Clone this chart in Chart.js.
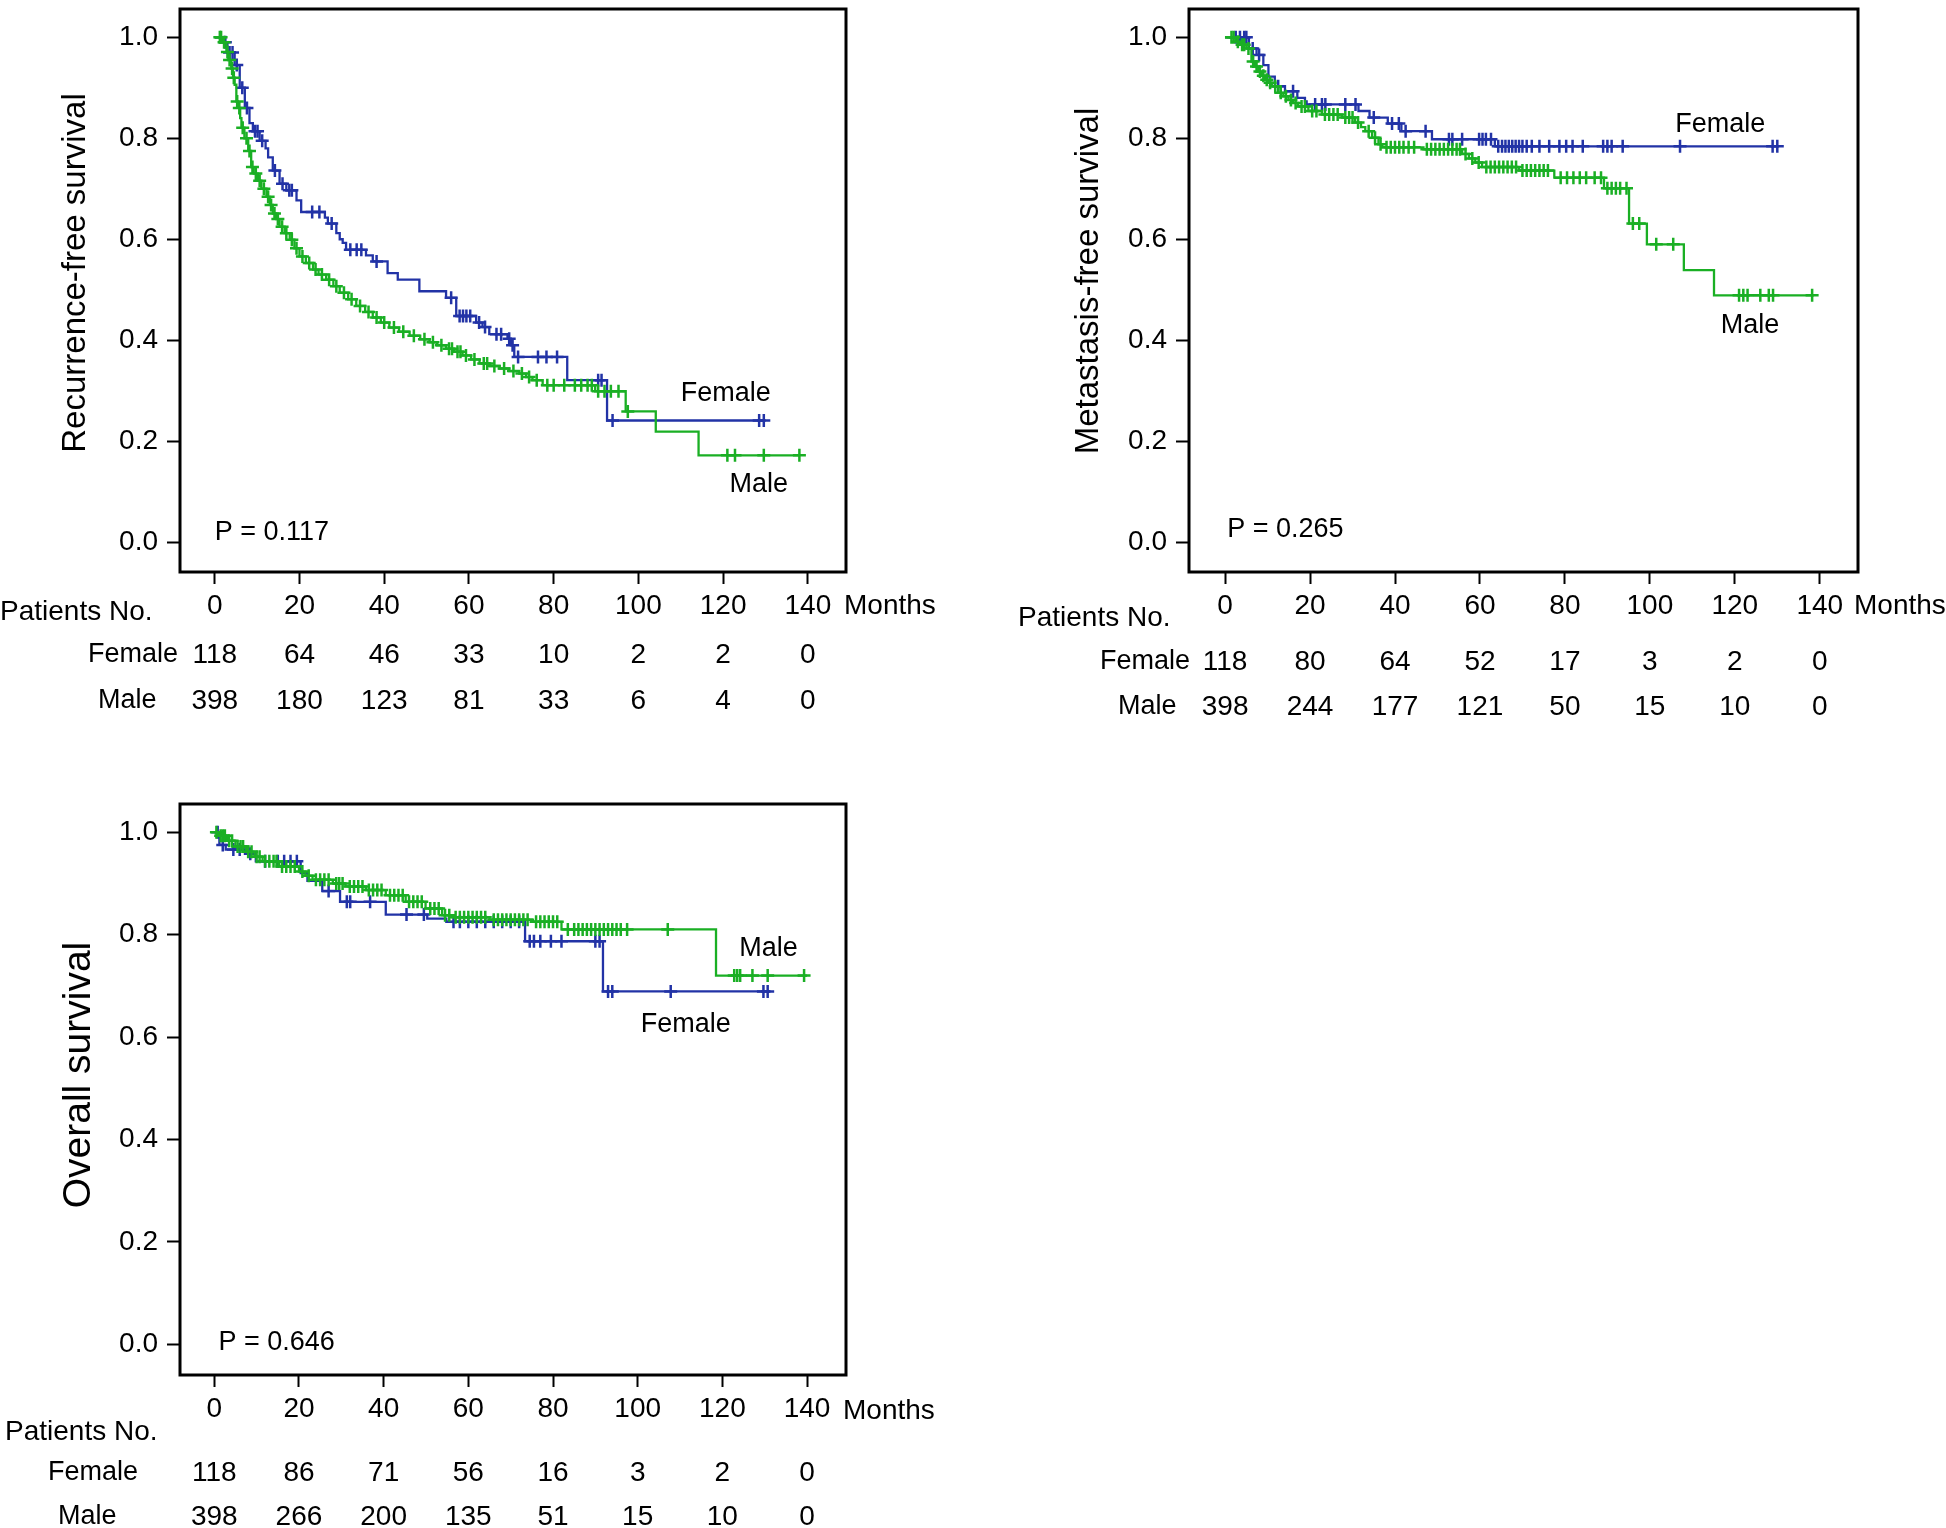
<!DOCTYPE html>
<html>
<head>
<meta charset="utf-8">
<script src="https://cdn.jsdelivr.net/npm/chart.js@4.4.1/dist/chart.umd.min.js"></script>
<style>
  body { margin: 0; width: 1946px; height: 1528px; background: #fff; overflow: hidden; position: relative; }
  canvas { position: absolute; }
</style>
</head>
<body>
<canvas id="rfsChart" width="960" height="760" style="left:0;top:0"></canvas>
<canvas id="mfsChart" width="961" height="760" style="left:985px;top:0"></canvas>
<canvas id="osChart" width="960" height="748" style="left:0;top:780px"></canvas>
<script>
// Axis ticks
const monthTicks = [0, 20, 40, 60, 80, 100, 120, 140];
const survTicks = [0, 0.2, 0.4, 0.6, 0.8, 1.0];

// Recurrence-free survival (steps + censor marks)
const rfsFemaleT = [0, 2.0, 3.0, 4.7, 5.9, 7.1, 8.2, 9.0, 10.6, 12.0, 12.6, 13.7, 15.3, 16.9, 19.3, 20.4, 26.0, 26.7, 28.7, 29.5, 30.2, 31.0, 35.7, 37.3, 40.8, 43.2, 48.3, 54.6, 57.0, 61.7, 63.2, 64.8, 69.1, 69.9, 70.7, 83.2, 92.6, 129.6];
const rfsFemaleS = [1, 0.99, 0.97, 0.945, 0.90, 0.86, 0.83, 0.814, 0.795, 0.78, 0.762, 0.736, 0.71, 0.697, 0.677, 0.654, 0.643, 0.631, 0.612, 0.60, 0.593, 0.579, 0.568, 0.556, 0.533, 0.52, 0.497, 0.484, 0.448, 0.435, 0.426, 0.412, 0.403, 0.39, 0.367, 0.321, 0.241, 0.241];
const rfsFemaleCensT = [2.5, 3.5, 4.2, 5.2, 6.5, 7.6, 9.5, 10.1, 11.2, 14.2, 16.0, 17.6, 18.2, 23.0, 24.7, 27.6, 32.0, 33.5, 34.6, 38.2, 55.8, 57.8, 58.6, 59.4, 60.3, 62.4, 63.8, 66.5, 67.6, 69.5, 70.3, 71.6, 76.3, 78.3, 80.8, 90.5, 91.3, 93.9, 128.5, 129.6];
const rfsFemaleCensS = [0.99, 0.97, 0.97, 0.945, 0.90, 0.86, 0.814, 0.814, 0.795, 0.736, 0.71, 0.697, 0.697, 0.654, 0.654, 0.631, 0.579, 0.579, 0.579, 0.556, 0.484, 0.448, 0.448, 0.448, 0.448, 0.435, 0.426, 0.412, 0.412, 0.403, 0.39, 0.367, 0.367, 0.367, 0.367, 0.321, 0.321, 0.241, 0.241, 0.241];
const rfsMaleT = [0, 1.8, 2.75, 3.2, 3.9, 4.3, 4.7, 5.1, 5.5, 6.0, 6.3, 7.0, 7.9, 8.6, 9.2, 10.2, 11.0, 12.2, 13.0, 13.7, 14.5, 15.3, 16.5, 17.7, 18.8, 20.0, 21.5, 23.2, 24.5, 26.3, 28.0, 29.5, 31.5, 33.4, 35.5, 37.3, 39.2, 41.2, 43.5, 46.0, 48.5, 50.7, 52.5, 54.6, 56.5, 58.5, 60.5, 62.5, 65.0, 67.2, 69.5, 71.9, 73.5, 75.0, 77.4, 89.8, 97.0, 104.1, 114.2, 138];
const rfsMaleS = [1, 0.99, 0.971, 0.955, 0.938, 0.92, 0.906, 0.873, 0.86, 0.84, 0.821, 0.80, 0.775, 0.743, 0.73, 0.716, 0.70, 0.684, 0.668, 0.651, 0.64, 0.625, 0.612, 0.599, 0.582, 0.566, 0.553, 0.540, 0.530, 0.520, 0.507, 0.494, 0.481, 0.468, 0.456, 0.445, 0.435, 0.425, 0.417, 0.409, 0.402, 0.396, 0.39, 0.383, 0.377, 0.370, 0.362, 0.354, 0.349, 0.344, 0.339, 0.334, 0.327, 0.321, 0.311, 0.299, 0.259, 0.219, 0.172, 0.172];
const rfsMaleCensT = [1.2, 1.5, 2.2, 3.0, 3.5, 4.1, 4.5, 5.3, 5.8, 6.6, 7.5, 8.2, 8.9, 9.7, 10.6, 11.6, 12.6, 13.3, 14.1, 14.9, 15.9, 16.9, 18.2, 19.3, 20.7, 22.3, 23.8, 25.3, 27.0, 28.7, 30.5, 32.3, 34.3, 36.3, 38.2, 40.0, 42.3, 44.5, 47.0, 49.5, 51.5, 53.5, 55.3, 56.0, 57.3, 58.0, 59.3, 61.3, 63.5, 64.3, 66.0, 68.3, 70.5, 72.5, 74.2, 76.0, 78.5, 80.0, 82.5, 85.0, 86.5, 88.0, 89.0, 90.5, 92.0, 93.5, 95.3, 97.5, 121.0, 122.8, 129.6, 138.0];
const rfsMaleCensS = [1, 1, 0.99, 0.971, 0.955, 0.938, 0.92, 0.873, 0.86, 0.821, 0.80, 0.775, 0.743, 0.73, 0.716, 0.70, 0.684, 0.668, 0.651, 0.64, 0.625, 0.612, 0.599, 0.582, 0.566, 0.553, 0.540, 0.530, 0.520, 0.507, 0.494, 0.481, 0.468, 0.456, 0.445, 0.435, 0.425, 0.417, 0.409, 0.402, 0.396, 0.39, 0.383, 0.383, 0.377, 0.377, 0.370, 0.362, 0.354, 0.354, 0.349, 0.344, 0.339, 0.334, 0.327, 0.321, 0.311, 0.311, 0.311, 0.311, 0.311, 0.311, 0.311, 0.299, 0.299, 0.299, 0.299, 0.259, 0.172, 0.172, 0.172, 0.172];
const rfsFemaleRisk = [118, 64, 46, 33, 10, 2, 2, 0];
const rfsMaleRisk = [398, 180, 123, 81, 33, 6, 4, 0];

// Metastasis-free survival
const mfsFemaleT = [0, 5.6, 7.4, 9.0, 10.2, 11.7, 14.1, 17.0, 18.8, 19.2, 31.4, 34.0, 38.3, 41.5, 48.7, 63.5, 130.0];
const mfsFemaleS = [1, 0.978, 0.965, 0.945, 0.922, 0.903, 0.893, 0.880, 0.873, 0.867, 0.854, 0.841, 0.829, 0.814, 0.798, 0.784, 0.784];
const mfsFemaleCensT = [2.5, 3.5, 4.5, 5.0, 6.5, 8.0, 12.5, 16.0, 21.2, 22.8, 23.6, 28.3, 30.7, 35.0, 39.3, 40.9, 42.5, 47.2, 52.7, 53.5, 55.8, 59.8, 60.6, 61.4, 62.6, 64.3, 65.2, 66.0, 66.8, 67.6, 68.4, 69.2, 70.0, 71.0, 72.2, 74.0, 76.3, 78.7, 80.3, 81.8, 84.2, 89.0, 90.0, 91.0, 93.6, 107.1, 128.9, 130.0];
const mfsFemaleCensS = [1, 1, 1, 1, 0.978, 0.965, 0.903, 0.893, 0.867, 0.867, 0.867, 0.867, 0.867, 0.841, 0.829, 0.829, 0.814, 0.814, 0.798, 0.798, 0.798, 0.798, 0.798, 0.798, 0.798, 0.784, 0.784, 0.784, 0.784, 0.784, 0.784, 0.784, 0.784, 0.784, 0.784, 0.784, 0.784, 0.784, 0.784, 0.784, 0.784, 0.784, 0.784, 0.784, 0.784, 0.784, 0.784, 0.784];
const mfsMaleT = [0, 2.5, 3.5, 5.0, 6.2, 7.0, 7.8, 8.6, 9.4, 10.2, 11.0, 12.5, 13.7, 14.9, 16.0, 17.2, 19.6, 22.8, 27.5, 30.6, 32.0, 33.0, 34.6, 36.1, 37.0, 46.7, 55.8, 57.4, 58.9, 60.5, 69.2, 77.5, 89.2, 95.1, 99.3, 108.0, 115.1, 138.6];
const mfsMaleS = [1, 0.991, 0.985, 0.978, 0.952, 0.942, 0.932, 0.924, 0.916, 0.910, 0.903, 0.890, 0.883, 0.876, 0.870, 0.863, 0.854, 0.847, 0.841, 0.831, 0.822, 0.814, 0.801, 0.788, 0.782, 0.778, 0.769, 0.760, 0.752, 0.743, 0.736, 0.722, 0.701, 0.631, 0.590, 0.539, 0.489, 0.489];
const mfsMaleCensT = [1.5, 2.0, 3.0, 4.0, 4.5, 5.5, 6.6, 7.4, 8.2, 9.0, 9.8, 10.6, 11.8, 13.1, 14.3, 15.5, 16.6, 18.0, 18.8, 20.5, 21.5, 23.5, 24.5, 25.5, 26.5, 28.3, 29.2, 30.0, 31.3, 33.8, 35.3, 36.6, 38.0, 39.0, 40.0, 41.0, 42.0, 43.2, 44.5, 47.5, 48.5, 49.5, 50.5, 51.5, 52.5, 53.5, 54.5, 55.3, 56.6, 58.2, 59.7, 61.5, 62.5, 63.5, 64.5, 65.5, 66.5, 67.5, 68.5, 70.0, 71.0, 72.0, 73.0, 74.0, 75.0, 76.0, 79.0, 80.5, 82.0, 83.5, 85.0, 87.0, 88.5, 90.0, 91.0, 92.0, 93.0, 94.5, 96.0, 97.5, 101.5, 105.5, 121.0, 122.0, 123.0, 126.0, 128.0, 129.0, 138.2];
const mfsMaleCensS = [1, 1, 0.991, 0.985, 0.985, 0.978, 0.952, 0.942, 0.932, 0.924,
  0.916, 0.910, 0.903, 0.890, 0.883, 0.876, 0.870, 0.863, 0.863, 0.854,
  0.854, 0.847, 0.847, 0.847, 0.847, 0.841, 0.841, 0.841, 0.831, 0.814,
  0.801, 0.788, 0.782, 0.782, 0.782, 0.782, 0.782, 0.782, 0.782, 0.778,
  0.778, 0.778, 0.778, 0.778, 0.778, 0.778, 0.778, 0.778, 0.769, 0.760,
  0.752, 0.743, 0.743, 0.743, 0.743, 0.743, 0.743, 0.743, 0.743, 0.736,
  0.736, 0.736, 0.736, 0.736, 0.736, 0.736, 0.722, 0.722, 0.722, 0.722,
  0.722, 0.722, 0.722, 0.701, 0.701, 0.701, 0.701, 0.701, 0.631, 0.631,
  0.590, 0.590, 0.489, 0.489, 0.489, 0.489, 0.489, 0.489, 0.489];
const mfsFemaleRisk = [118, 80, 64, 52, 17, 3, 2, 0];
const mfsMaleRisk = [398, 244, 177, 121, 50, 15, 10, 0];

// Overall survival
const osFemaleT = [0, 1.2, 2.7, 7.5, 9.8, 20.4, 22.0, 25.5, 29.7, 40.5, 50.3, 54.8, 73.4, 91.8, 131.4];
const osFemaleS = [1, 0.975, 0.966, 0.958, 0.943, 0.920, 0.905, 0.885, 0.864, 0.839, 0.831, 0.825, 0.787, 0.689, 0.689];
const osFemaleCensT = [0.8, 2.0, 4.5, 6.0, 8.5, 12.0, 15.0, 16.5, 18.0, 19.5, 27.0, 31.3, 32.1, 36.8, 45.4, 49.5, 56.5, 58.0, 60.0, 62.0, 64.0, 66.0, 68.0, 70.0, 72.0, 74.5, 75.5, 77.0, 79.5, 82.0, 90.0, 91.0, 93.0, 94.0, 107.8, 129.7, 130.7];
const osFemaleCensS = [1, 0.975, 0.966, 0.966, 0.958, 0.943, 0.943, 0.943, 0.943, 0.943, 0.885, 0.864, 0.864, 0.864, 0.839, 0.839, 0.825, 0.825, 0.825, 0.825, 0.825, 0.825, 0.825, 0.825, 0.825, 0.787, 0.787, 0.787, 0.787, 0.787, 0.787, 0.787, 0.689, 0.689, 0.689, 0.689, 0.689];
const osMaleT = [0, 1.0, 3.0, 5.0, 7.5, 9.5, 11.4, 15.3, 20.0, 21.5, 23.2, 28.0, 31.0, 35.8, 40.5, 45.2, 49.9, 53.8, 56.2, 65.0, 75.0, 82.0, 118.5, 140.0];
const osMaleS = [1, 0.993, 0.983, 0.972, 0.962, 0.952, 0.943, 0.933, 0.923, 0.915, 0.907, 0.900, 0.894, 0.887, 0.877, 0.864, 0.851, 0.838, 0.834, 0.829, 0.825, 0.810, 0.720, 0.720];
const osMaleCensT = [0.5, 1.5, 2.0, 2.5, 3.5, 4.2, 5.5, 6.2, 6.8, 8.0, 8.8, 10.0, 10.7, 12.0, 13.0, 14.0, 14.7, 16.0, 17.0, 18.0, 19.0, 20.8, 22.3, 24.0, 25.0, 26.0, 27.0, 28.8, 29.5, 30.3, 32.0, 33.0, 34.0, 35.0, 36.5, 37.5, 38.5, 39.5, 41.5, 42.5, 43.5, 44.5, 46.0, 47.0, 48.0, 49.0, 51.0, 52.0, 53.0, 54.5, 55.5, 57.0, 58.0, 59.0, 60.0, 61.0, 62.0, 63.0, 64.0, 66.0, 67.0, 68.0, 69.0, 70.0, 71.0, 72.0, 73.0, 74.0, 76.0, 77.0, 78.0, 79.0, 80.0, 81.0, 83.5, 85.0, 86.0, 87.0, 88.0, 89.0, 90.0, 91.0, 92.0, 93.0, 94.0, 95.0, 96.0, 97.5, 107.1, 122.8, 123.5, 124.2, 127.1, 130.7, 139.3];
const osMaleCensS = [1, 0.993, 0.993, 0.993, 0.983, 0.983, 0.972, 0.972, 0.972, 0.962,
  0.962, 0.952, 0.952, 0.943, 0.943, 0.943, 0.943, 0.933, 0.933, 0.933,
  0.933, 0.923, 0.915, 0.907, 0.907, 0.907, 0.907, 0.900, 0.900, 0.900,
  0.894, 0.894, 0.894, 0.894, 0.887, 0.887, 0.887, 0.887, 0.877, 0.877,
  0.877, 0.877, 0.864, 0.864, 0.864, 0.864, 0.851, 0.851, 0.851, 0.838,
  0.838, 0.834, 0.834, 0.834, 0.834, 0.834, 0.834, 0.834, 0.834, 0.829,
  0.829, 0.829, 0.829, 0.829, 0.829, 0.829, 0.829, 0.829, 0.825, 0.825,
  0.825, 0.825, 0.825, 0.825, 0.810, 0.810, 0.810, 0.810, 0.810, 0.810,
  0.810, 0.810, 0.810, 0.810, 0.810, 0.810, 0.810, 0.810, 0.810, 0.720,
  0.720, 0.720, 0.720, 0.720, 0.720];
const osFemaleRisk = [118, 86, 71, 56, 16, 3, 2, 0];
const osMaleRisk = [398, 266, 200, 135, 51, 15, 10, 0];

const BLUE = "#2233a6";
const GREEN = "#1aaf24";
const FAMILY = "'Liberation Sans', Arial, sans-serif";

function kmLine(t, s, color) {
  return {
    type: "line",
    data: t.map((v, i) => ({ x: v, y: s[i] })),
    borderColor: color,
    borderWidth: 2.3,
    stepped: true,
    pointRadius: 0,
    fill: false,
  };
}

function kmCensors(t, s, color) {
  return {
    type: "scatter",
    data: t.map((v, i) => ({ x: v, y: s[i] })),
    borderColor: color,
    backgroundColor: color,
    pointStyle: "cross",
    pointRadius: 6.5,
    borderWidth: 2.5,
    showLine: false,
  };
}

// Builds one Kaplan-Meier panel: box, ticks, labels, p value and risk table
function makePanel(id, p) {
  const decor = {
    id: "decor" + id,
    afterDraw(chart) {
      const { ctx, chartArea: a, scales: { x, y } } = chart;
      ctx.save();
      ctx.strokeStyle = "#000";
      ctx.lineWidth = 3;
      ctx.strokeRect(a.left, a.top, a.right - a.left, a.bottom - a.top);
      ctx.fillStyle = "#000";
      ctx.textBaseline = "middle";

      // y axis title, rotated
      ctx.save();
      ctx.translate(p.titleX, p.titleY);
      ctx.rotate(-Math.PI / 2);
      ctx.textAlign = "center";
      ctx.font = p.titleSize + "px " + FAMILY;
      ctx.fillText(p.title, 0, 0);
      ctx.restore();

      ctx.font = "27px " + FAMILY;
      ctx.textAlign = "left";
      ctx.fillText(p.pText, x.getPixelForValue(p.pPos[0]), y.getPixelForValue(p.pPos[1]));
      ctx.fillText("Female", x.getPixelForValue(p.femalePos[0]), y.getPixelForValue(p.femalePos[1]));
      ctx.fillText("Male", x.getPixelForValue(p.malePos[0]), y.getPixelForValue(p.malePos[1]));
      ctx.font = "28px " + FAMILY;
      ctx.fillText("Months", p.monthsX, p.tickY);
      ctx.fillText("Patients No.", p.headX, p.headY);
      ctx.font = "27px " + FAMILY;
      ctx.fillText("Female", p.femaleX, p.femaleY);
      ctx.fillText("Male", p.maleX, p.maleY);
      ctx.font = "28px " + FAMILY;
      ctx.textAlign = "center";
      monthTicks.forEach((m, i) => {
        ctx.fillText(p.femaleRisk[i], x.getPixelForValue(m), p.femaleY);
        ctx.fillText(p.maleRisk[i], x.getPixelForValue(m), p.maleY);
      });
      ctx.restore();
    },
  };

  return new Chart(document.getElementById(id), {
    type: "line",
    data: {
      datasets: [
        kmCensors(p.maleCT, p.maleCS, GREEN),
        kmLine(p.maleT, p.maleS, GREEN),
        kmCensors(p.femaleCT, p.femaleCS, BLUE),
        kmLine(p.femaleT, p.femaleS, BLUE),
      ],
    },
    options: {
      responsive: false,
      animation: false,
      layout: { padding: { left: 0, top: p.top, right: p.right, bottom: 0 } },
      plugins: { legend: { display: false }, tooltip: { enabled: false } },
      scales: {
        x: {
          type: "linear",
          min: p.xMin,
          max: p.xMax,
          afterBuildTicks: (s) => { s.ticks = monthTicks.map((v) => ({ value: v })); },
          afterFit: (s) => { s.height = p.xAxisH; s.paddingLeft = 0; s.paddingRight = 0; },
          grid: { drawOnChartArea: false, tickLength: 12, tickWidth: 2, tickColor: "#000" },
          border: { display: false },
          ticks: { color: "#000", font: { family: FAMILY, size: 28 }, padding: 5, maxRotation: 0, autoSkip: false },
        },
        y: {
          min: p.yMin,
          max: p.yMax,
          afterBuildTicks: (s) => { s.ticks = survTicks.map((v) => ({ value: v })); },
          afterFit: (s) => { s.width = p.yAxisW; s.paddingTop = 0; s.paddingBottom = 0; },
          grid: { drawOnChartArea: false, tickLength: 13, tickWidth: 2, tickColor: "#000" },
          border: { display: false },
          ticks: { color: "#000", font: { family: FAMILY, size: 28 }, padding: 9, callback: (v) => v.toFixed(1) },
        },
      },
    },
    plugins: [decor],
  });
}

makePanel("rfsChart", {
  title: "Recurrence-free survival", titleSize: 33, titleX: 76, titleY: 273,
  femaleT: rfsFemaleT, femaleS: rfsFemaleS, femaleCT: rfsFemaleCensT, femaleCS: rfsFemaleCensS,
  maleT: rfsMaleT, maleS: rfsMaleS, maleCT: rfsMaleCensT, maleCS: rfsMaleCensS,
  femaleRisk: rfsFemaleRisk, maleRisk: rfsMaleRisk,
  xMin: -8.2, xMax: 149, yMin: -0.059, yMax: 1.056,
  top: 4, right: 114, yAxisW: 180, xAxisH: 188,
  pText: "P = 0.117", pPos: [0, 0.02], femalePos: [110, 0.294], malePos: [121.5, 0.114],
  monthsX: 844, tickY: 606, headX: 0, headY: 612, femaleX: 88, femaleY: 655, maleX: 98, maleY: 701,
});

makePanel("mfsChart", {
  title: "Metastasis-free survival", titleSize: 33, titleX: 104, titleY: 281,
  femaleT: mfsFemaleT, femaleS: mfsFemaleS, femaleCT: mfsFemaleCensT, femaleCS: mfsFemaleCensS,
  maleT: mfsMaleT, maleS: mfsMaleS, maleCT: mfsMaleCensT, maleCS: mfsMaleCensS,
  femaleRisk: mfsFemaleRisk, maleRisk: mfsMaleRisk,
  xMin: -8.5, xMax: 149, yMin: -0.059, yMax: 1.056,
  top: 4, right: 88, yAxisW: 204, xAxisH: 188,
  pText: "P = 0.265", pPos: [0.5, 0.025], femalePos: [106, 0.828], malePos: [116.7, 0.43],
  monthsX: 869, tickY: 606, headX: 33, headY: 618, femaleX: 115, femaleY: 662, maleX: 133, maleY: 707,
});

makePanel("osChart", {
  title: "Overall survival", titleSize: 39, titleX: 79, titleY: 295,
  femaleT: osFemaleT, femaleS: osFemaleS, femaleCT: osFemaleCensT, femaleCS: osFemaleCensS,
  maleT: osMaleT, maleS: osMaleS, maleCT: osMaleCensT, maleCS: osMaleCensS,
  femaleRisk: osFemaleRisk, maleRisk: osMaleRisk,
  xMin: -8.1, xMax: 149.2, yMin: -0.06, yMax: 1.055,
  top: 24, right: 114, yAxisW: 180, xAxisH: 153,
  pText: "P = 0.646", pPos: [1, 0.004], femalePos: [100.7, 0.625], malePos: [124, 0.773],
  monthsX: 843, tickY: 631, headX: 5, headY: 652, femaleX: 48, femaleY: 693, maleX: 58, maleY: 737,
});
</script>
</body>
</html>
